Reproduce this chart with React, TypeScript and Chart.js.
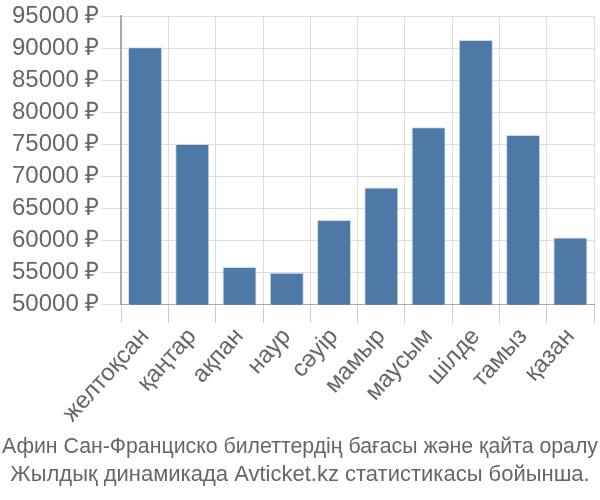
import React, { useEffect, useRef } from "react";
import { Chart, registerables } from "chart.js";

Chart.register(...registerables);

const categories = ["желтоқсан", "қаңтар", "ақпан", "наур", "сәуір", "мамыр", "маусым", "шілде", "тамыз", "қазан"];
const prices = [90200, 75100, 55900, 55000, 63200, 68300, 77700, 91300, 76500, 60500];
const titleLines = [
  "Афин Сан-Франциско билеттердің бағасы және қайта оралу",
  "Жылдық динамикада Avticket.kz статистикасы бойынша.",
];
const currency = " ₽";

const FONT = "'Liberation Sans', Arial, sans-serif";

const bottomTitle = {
  id: "bottomTitle",
  afterDraw(chart: any) {
    const ctx = chart.ctx;
    ctx.save();
    ctx.fillStyle = "#666";
    ctx.font = `22px ${FONT}`;
    ctx.textAlign = "center";
    ctx.textBaseline = "middle";
    const w = chart.width;
    titleLines.forEach((line, i) => {
      ctx.fillText(line, w / 2, 447 + i * 28, w - 4);
    });
    ctx.restore();
  },
};

export default function App() {
  const ref = useRef<HTMLCanvasElement>(null);
  useEffect(() => {
    if (!ref.current) return;
    const chart = new Chart(ref.current, {
      type: "bar",
      data: {
        labels: categories,
        datasets: [
          {
            data: prices,
            backgroundColor: "#4e79a7",
            borderColor: "rgba(200,215,235,0.9)",
            borderWidth: 1,
          },
        ],
      },
      options: {
        animation: false,
        responsive: false,
        layout: { padding: { top: 4, right: 6, bottom: 72, left: 10 } },
        plugins: {
          legend: { display: false },
          title: { display: false },
          tooltip: { enabled: false },
        },
        scales: {
          x: {
            grid: { color: "#dddddd", lineWidth: 1, tickLength: 18, offset: true, tickColor: "#cccccc" },
            border: { color: "#aaaaaa" },
            ticks: {
              color: "#666",
              font: { family: FONT, size: 24 },
              minRotation: 48,
              maxRotation: 48,
              padding: 0,
            },
          },
          y: {
            min: 50000,
            max: 95000,
            grid: { color: "#dddddd", lineWidth: 1, tickLength: 20 },
            border: { color: "#aaaaaa", width: 2 },
            ticks: {
              stepSize: 5000,
              color: "#666",
              font: { family: FONT, size: 24 },
              padding: 2,
              callback: (v: any) => `${v}${currency}`,
            },
          },
        },
      },
      plugins: [bottomTitle],
    });
    return () => chart.destroy();
  }, []);
  return (
    <div style={{ position: "fixed", left: 0, top: 0, width: 600, height: 500, background: "#fff" }}>
      <canvas ref={ref} width={600} height={500} style={{ width: 600, height: 500 }} />
    </div>
  );
}
